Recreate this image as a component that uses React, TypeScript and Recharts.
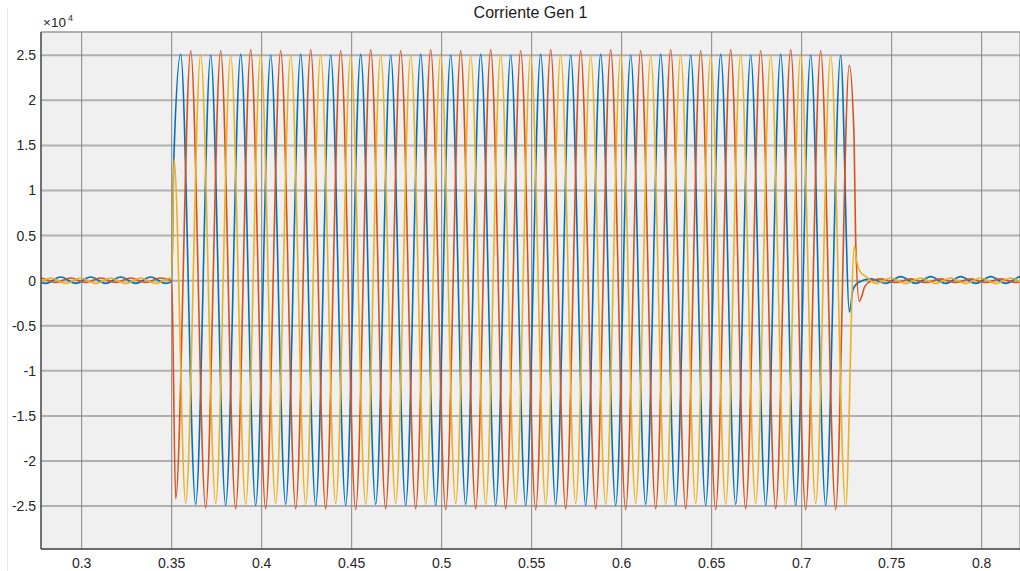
import React from 'react';
import { LineChart, Line, XAxis, YAxis, CartesianGrid } from 'recharts';

// Currents are in units of 1e4 A. Time in seconds.
// Each run of values alternates peak / trough, half a 60 Hz cycle apart.
const HALF = 1 / 120;

const xTicks = [0.3, 0.35, 0.4, 0.45, 0.5, 0.55, 0.6, 0.65, 0.7, 0.75, 0.8];
const yTicks = [-2.5, -2, -1.5, -1, -0.5, 0, 0.5, 1, 1.5, 2, 2.5];

// phase A (blue)
const aPreStart = 0.27167;
const aPre = [0.04, -0.03, 0.04, -0.03, 0.04, -0.03, 0.04, -0.03, 0.04, -0.03];
const aOnset = [[0.35, -0.01], [0.3512, 1.35]];
const aFaultStart = 0.355;
const aFault = [
  2.51, -2.48, 2.5, -2.49, 2.51, -2.49, 2.5, -2.48, 2.51, -2.49,
  2.5, -2.49, 2.51, -2.48, 2.5, -2.49, 2.51, -2.49, 2.5, -2.48,
  2.51, -2.49, 2.5, -2.49, 2.51, -2.48, 2.5, -2.49, 2.51, -2.49,
  2.5, -2.48, 2.51, -2.49, 2.5, -2.49, 2.51, -2.48, 2.5, -2.49,
  2.51, -2.49, 2.5, -2.49, 2.5,
];
const aTail = [[0.72656, -0.35], [0.7285, -0.1], [0.7315, -0.02], [0.7383, 0.02]];
const aPostStart = 0.74667;
const aPost = [-0.03, 0.045, -0.03, 0.045, -0.03, 0.045, -0.03, 0.045, -0.03, 0.045, -0.03];

// phase B (orange)
const bPreStart = 0.26883;
const bPre = [-0.02, 0.03, -0.02, 0.03, -0.02, 0.03, -0.02, 0.03, -0.02, 0.03];
const bOnset = [[0.35, 0.0]];
const bFaultStart = 0.35222;
const bFault = [
  -2.42, 2.55, -2.52, 2.55, -2.53, 2.56, -2.53, 2.55, -2.53, 2.56,
  -2.53, 2.55, -2.54, 2.56, -2.53, 2.55, -2.53, 2.56, -2.54, 2.55,
  -2.53, 2.56, -2.53, 2.55, -2.54, 2.56, -2.53, 2.55, -2.53, 2.56,
  -2.54, 2.55, -2.53, 2.56, -2.53, 2.55, -2.54, 2.56, -2.53, 2.55,
  -2.53, 2.56, -2.54, 2.55, -2.54,
];
const bTail = [[0.72644, 2.39], [0.7291, 1.6], [0.73, 0.45], [0.732, -0.23], [0.7352, -0.06], [0.7391, 0.0]];
const bPostStart = 0.74389;
const bPost = [0.02, -0.02, 0.02, -0.02, 0.02, -0.02, 0.02, -0.02, 0.02, -0.02, 0.02, -0.02];

// phase C (yellow)
const cPreStart = 0.26611;
const cPre = [0.03, -0.03, 0.03, -0.03, 0.03, -0.03, 0.03, -0.03, 0.03, -0.03, 0.03];
const cOnset = [[0.35, 0.02], [0.3513, 1.35]];
const cFaultStart = 0.35778;
const cFault = [
  -2.47, 2.51, -2.47, 2.5, -2.48, 2.51, -2.47, 2.5, -2.48, 2.51,
  -2.47, 2.5, -2.48, 2.51, -2.47, 2.5, -2.48, 2.51, -2.47, 2.5,
  -2.48, 2.51, -2.47, 2.5, -2.48, 2.51, -2.47, 2.5, -2.48, 2.51,
  -2.47, 2.5, -2.48, 2.51, -2.47, 2.5, -2.48, 2.51, -2.47, 2.5,
  -2.48, 2.51, -2.47, 2.5, -2.5,
];
const cTail = [[0.7293, 0.38], [0.7305, 0.22], [0.7325, 0.1], [0.7361, 0.04]];
const cPostStart = 0.74111;
const cPost = [-0.03, 0.03, -0.03, 0.03, -0.03, 0.03, -0.03, 0.03, -0.03, 0.03, -0.03, 0.03];

type Pt = { t: number; v: number };
const run = (start: number, vals: number[]): Pt[] => vals.map((v, i) => ({ t: start + i * HALF, v }));
const pairs = (p: number[][]): Pt[] => p.map(([t, v]) => ({ t, v }));

const phaseA = [...run(aPreStart, aPre), ...pairs(aOnset), ...run(aFaultStart, aFault), ...pairs(aTail), ...run(aPostStart, aPost)];
const phaseB = [...run(bPreStart, bPre), ...pairs(bOnset), ...run(bFaultStart, bFault), ...pairs(bTail), ...run(bPostStart, bPost)];
const phaseC = [...run(cPreStart, cPre), ...pairs(cOnset), ...run(cFaultStart, cFault), ...pairs(cTail), ...run(cPostStart, cPost)];

const FONT = '"Liberation Sans", Arial, sans-serif';
const tickStyle = { fontSize: 14, fill: '#262626', fontFamily: FONT };

export default function App() {
  return (
    <div style={{ position: 'absolute', left: 0, top: 0, width: 1020, height: 571, background: '#fff' }}>
      <div style={{ position: 'absolute', left: 7, top: 8, width: 1, height: 563, background: '#e8e8e8' }} />
      <LineChart width={1020} height={571} margin={{ top: 32, right: 0, bottom: 0, left: 0 }}>
        <CartesianGrid vertical={false} stroke="#b0b0b0" strokeWidth={2} fill="#f0f0f0" />
        <CartesianGrid horizontal={false} stroke="#858585" strokeWidth={1} />
        <XAxis
          dataKey="t"
          type="number"
          domain={[0.2774, 0.8213]}
          allowDataOverflow
          ticks={xTicks}
          interval={0}
          tickFormatter={(v: number) => String(v)}
          tick={tickStyle}
          tickLine={false}
          tickSize={6}
          tickMargin={3}
          height={22}
          axisLine={{ stroke: '#262626' }}
        />
        <XAxis
          xAxisId="top"
          orientation="top"
          type="number"
          domain={[0.2774, 0.8213]}
          tick={false}
          tickLine={false}
          height={0}
          axisLine={{ stroke: '#262626' }}
        />
        <YAxis
          type="number"
          domain={[-2.976, 2.758]}
          allowDataOverflow
          ticks={yTicks}
          interval={0}
          tickFormatter={(v: number) => String(v)}
          tick={tickStyle}
          tickLine={false}
          tickSize={3}
          tickMargin={2}
          width={41}
          axisLine={{ stroke: '#262626' }}
        />
        <Line data={phaseA} dataKey="v" type="monotone" stroke="#0072BD" strokeWidth={1.6} dot={false} isAnimationActive={false} />
        <Line data={phaseB} dataKey="v" type="monotone" stroke="#D95319" strokeWidth={1.6} dot={false} isAnimationActive={false} />
        <Line data={phaseC} dataKey="v" type="monotone" stroke="#EDB120" strokeWidth={1.6} dot={false} isAnimationActive={false} />
      </LineChart>
      <svg width={1020} height={32} style={{ position: 'absolute', left: 0, top: 0, pointerEvents: 'none' }}>
        <text x={530.5} y={18} textAnchor="middle" fontFamily={FONT} fontSize={16} fill="#1a1a1a">
          Corriente Gen 1
        </text>
        <text x={43} y={26.5} fontFamily={FONT} fontSize={13.5} fill="#262626">
          ×10
        </text>
        <text x={68} y={21} fontFamily={FONT} fontSize={9} fill="#262626">
          4
        </text>
      </svg>
    </div>
  );
}
